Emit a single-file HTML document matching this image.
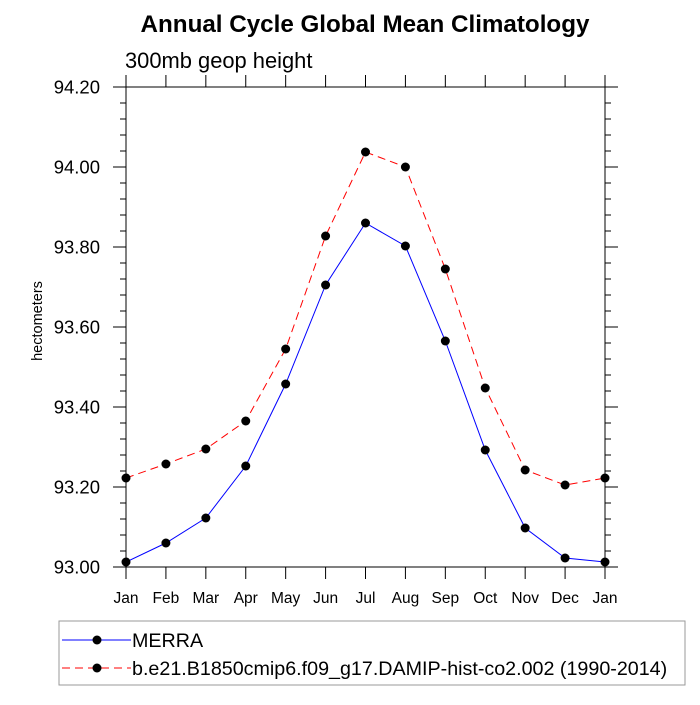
<!DOCTYPE html>
<html><head><meta charset="utf-8"><style>
body{margin:0;background:#fff;width:700px;height:700px;overflow:hidden}
text{font-family:"Liberation Sans",sans-serif}
</style></head><body>
<svg id="chart" width="700" height="700" xmlns="http://www.w3.org/2000/svg">
<text x="365" y="32" text-anchor="middle" font-size="24.2" font-weight="bold">Annual Cycle Global Mean Climatology</text>
<text x="125" y="68" font-size="21.9">300mb geop height</text>
<text transform="translate(42,321) rotate(-90)" text-anchor="middle" font-size="14.5">hectometers</text>
<g id="axes"></g>
<g id="series"></g>
<rect x="59" y="621" width="626" height="64" fill="none" stroke="#999" stroke-width="1"/>
<g>
<line x1="62" y1="640" x2="131" y2="640" stroke="#0000ff" stroke-width="1"/>
<circle cx="97" cy="640" r="4.5" fill="#000"/>
<text x="132" y="647" font-size="19.7">MERRA</text></g>
<g>
<line x1="62" y1="668" x2="131" y2="668" stroke="#ff0000" stroke-width="1" stroke-dasharray="8,5"/>
<circle cx="97" cy="668" r="4.5" fill="#000"/>
<text x="132" y="675" font-size="19.7">b.e21.B1850cmip6.f09_g17.DAMIP-hist-co2.002 (1990-2014)</text></g>
</svg>
<script>
const months=["Jan","Feb","Mar","Apr","May","Jun","Jul","Aug","Sep","Oct","Nov","Dec","Jan"];
const merra=[93.0125,93.06,93.1225,93.2525,93.4575,93.705,93.86,93.8025,93.565,93.2925,93.0975,93.0225,93.0125];
const model=[93.2225,93.2575,93.295,93.365,93.545,93.8275,94.0375,94.0,93.745,93.4475,93.2425,93.205,93.2225];
const yTicks=["93.00","93.20","93.40","93.60","93.80","94.00","94.20"];
const X0=126,X1=605,Y0=567,Y1=87,YMIN=93.0,YMAX=94.2;
const xs=i=>X0+(X1-X0)*i/(months.length-1);
const ys=v=>Y0-(v-YMIN)/(YMAX-YMIN)*(Y0-Y1);
const NS="http://www.w3.org/2000/svg";
function mk(t,a,p){const e=document.createElementNS(NS,t);for(const k in a)e.setAttribute(k,a[k]);p.appendChild(e);return e;}
const ax=document.getElementById('axes');
const frame=mk('rect',{x:X0,y:Y1,width:X1-X0,height:Y0-Y1,fill:'none',stroke:'#000','stroke-width':1},ax);


months.forEach((m,i)=>{
  const x=xs(i);
  mk('line',{x1:x,y1:Y0,x2:x,y2:Y0+12,stroke:'#000'},ax);
  mk('line',{x1:x,y1:Y1,x2:x,y2:Y1-12,stroke:'#000'},ax);
  const t=mk('text',{x:x,y:Y0+36,'text-anchor':'middle','font-size':15.5},ax);
  t.textContent=m;
  
  
});
for(let v=YMIN;v<=YMAX+1e-9;v+=0.04){
  const y=ys(v);
  const major=Math.abs(Math.round(v*5)-v*5)<1e-6;
  const L=major?13:6;
  mk('line',{x1:X0,y1:y,x2:X0-L,y2:y,stroke:'#000'},ax);
  mk('line',{x1:X1,y1:y,x2:X1+L,y2:y,stroke:'#000'},ax);
}
yTicks.forEach(s=>{
  const t=mk('text',{x:100,y:ys(parseFloat(s))+6.5,'text-anchor':'end','font-size':18.5},ax);
  t.textContent=s;
  
  
});
const sg=document.getElementById('series');
function series(vals,color,dash,name){
  const g=mk('g',{},sg);
  
  
  const pts=vals.map((v,i)=>xs(i)+','+ys(v)).join(' ');
  const a={points:pts,fill:'none',stroke:color,'stroke-width':1};
  if(dash)a['stroke-dasharray']=dash;
  mk('polyline',a,g);
  vals.forEach((v,i)=>{
    const c=mk('circle',{cx:xs(i),cy:ys(v),r:4.5,fill:'#000'},g);
    
    
  });
}
series(model,'#ff0000','8,5','model-series');
series(merra,'#0000ff',null,'merra-series');
</script>
</body></html>
